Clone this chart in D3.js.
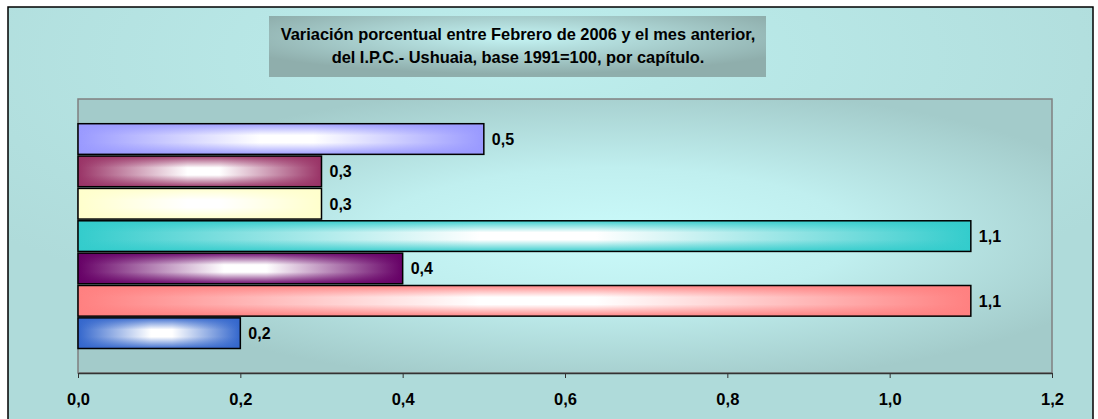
<!DOCTYPE html>
<html>
<head>
<meta charset="utf-8">
<script src="https://cdn.jsdelivr.net/npm/d3@7"></script>
<style>
  body { margin: 0; background: #fff; }
  svg { display: block; font-family: Arial, "Liberation Sans", sans-serif; }
</style>
</head>
<body>
<svg id="chart" width="1098" height="419"></svg>
<script>
// one bar per capítulo, top to bottom as drawn
const series = ['Serie 1', 'Serie 2', 'Serie 3', 'Serie 4', 'Serie 5', 'Serie 6', 'Serie 7'];
const values = [0.5, 0.3, 0.3, 1.1, 0.4, 1.1, 0.2];
const ticks = [0, 0.2, 0.4, 0.6, 0.8, 1.0, 1.2];
const titleLines = [
  'Variación porcentual entre Febrero de 2006 y el mes anterior,',
  'del I.P.C.- Ushuaia, base 1991=100, por capítulo.'
];
const barColors = ['#9999ff', '#993366', '#ffffcc', '#33cccc', '#660066', '#ff8080', '#3366cc'];

const fmt = d => d.toFixed(1).replace('.', ',');

const svg = d3.select('#chart');
const defs = svg.append('defs');

// background gradients
const bg = defs.append('radialGradient').attr('id', 'bgGrad')
  .attr('cx', 0.48).attr('cy', 0.12).attr('r', 0.65);
bg.append('stop').attr('offset', '0%').attr('stop-color', '#bdeeed');
bg.append('stop').attr('offset', '100%').attr('stop-color', '#afdbda');

const pa = defs.append('radialGradient').attr('id', 'plotGrad')
  .attr('cx', 0.55).attr('cy', 0.5).attr('r', 0.55);
pa.append('stop').attr('offset', '0%').attr('stop-color', '#cafafa');
pa.append('stop').attr('offset', '45%').attr('stop-color', '#c0efef');
pa.append('stop').attr('offset', '100%').attr('stop-color', '#a3cbca');

const tg = defs.append('radialGradient').attr('id', 'titleGrad')
  .attr('cx', 0.5).attr('cy', 0.35).attr('r', 0.6);
tg.append('stop').attr('offset', '0%').attr('stop-color', '#c4f4f4');
tg.append('stop').attr('offset', '100%').attr('stop-color', '#8faeac');

// bar gradients: colour -> white -> colour, across and down
barColors.forEach((c, i) => {
  const h = defs.append('linearGradient').attr('id', `barH${i}`)
    .attr('x1', 0).attr('x2', 1).attr('y1', 0).attr('y2', 0);
  h.append('stop').attr('offset', '0%').attr('stop-color', c);
  h.append('stop').attr('offset', '45%').attr('stop-color', '#ffffff');
  h.append('stop').attr('offset', '58%').attr('stop-color', '#ffffff');
  h.append('stop').attr('offset', '100%').attr('stop-color', c);
  const v = defs.append('linearGradient').attr('id', `barV${i}`)
    .attr('x1', 0).attr('x2', 0).attr('y1', 0).attr('y2', 1);
  v.append('stop').attr('offset', '0%').attr('stop-color', c).attr('stop-opacity', 0.95);
  v.append('stop').attr('offset', '38%').attr('stop-color', c).attr('stop-opacity', 0);
  v.append('stop').attr('offset', '62%').attr('stop-color', c).attr('stop-opacity', 0);
  v.append('stop').attr('offset', '100%').attr('stop-color', c).attr('stop-opacity', 0.95);
});

// outer frame
svg.append('rect')
  .attr('x', 8).attr('y', 7).attr('width', 1085).attr('height', 420)
  .attr('fill', 'url(#bgGrad)')
  .attr('stroke', '#000').attr('stroke-width', 1.5);

// title box
svg.append('rect')
  .attr('x', 269).attr('y', 16).attr('width', 497).attr('height', 61)
  .attr('fill', 'url(#titleGrad)');
svg.append('g').selectAll('text')
  .data(titleLines)
  .join('text')
  .attr('x', 518)
  .attr('y', (d, i) => 40 + i * 23)
  .attr('text-anchor', 'middle')
  .attr('font-size', 16.4)
  .attr('font-weight', 'bold')
  .attr('fill', '#000')
  .text(d => d);

// plot area
const plotL = 78, plotR = 1052, plotT = 99, plotB = 373;
const x = d3.scaleLinear().domain([0, 1.2]).range([plotL, plotR]);
const y = d3.scaleBand().domain(series).range([123.7, 348.5]).paddingInner(0.053);

svg.append('rect')
  .attr('x', plotL).attr('y', plotT)
  .attr('width', plotR - plotL).attr('height', plotB - plotT)
  .attr('fill', 'url(#plotGrad)')
  .attr('stroke', '#808080').attr('stroke-width', 1.5);

const bars = svg.append('g').selectAll('g')
  .data(series)
  .join('g');

bars.append('rect')
  .attr('x', x(0))
  .attr('y', d => y(d))
  .attr('width', (d, i) => x(values[i]) - x(0))
  .attr('height', y.bandwidth())
  .attr('fill', (d, i) => `url(#barH${i})`);

bars.append('rect')
  .attr('x', x(0))
  .attr('y', d => y(d))
  .attr('width', (d, i) => x(values[i]) - x(0))
  .attr('height', y.bandwidth())
  .attr('fill', (d, i) => `url(#barV${i})`)
  .attr('stroke', '#000')
  .attr('stroke-width', 1.5);

bars.append('text')
  .attr('x', (d, i) => x(values[i]) + 8)
  .attr('y', d => y(d) + y.bandwidth() / 2 + 6)
  .attr('font-size', 16)
  .attr('font-weight', 'bold')
  .attr('fill', '#000')
  .text((d, i) => fmt(values[i]));

// x axis
const axis = svg.append('g')
  .attr('transform', `translate(0,${plotB})`)
  .call(d3.axisBottom(x).tickValues(ticks).tickFormat(fmt).tickSize(5).tickSizeOuter(0));
axis.select('.domain').attr('stroke', '#333').attr('stroke-width', 1.5);
axis.selectAll('.tick line').attr('stroke', '#333').attr('stroke-width', 1);
axis.selectAll('.tick text')
  .attr('y', 32).attr('dy', 0)
  .attr('font-size', 16.5)
  .attr('font-weight', 'bold')
  .attr('font-family', 'Arial, "Liberation Sans", sans-serif')
  .attr('fill', '#000');
</script>
</body>
</html>
